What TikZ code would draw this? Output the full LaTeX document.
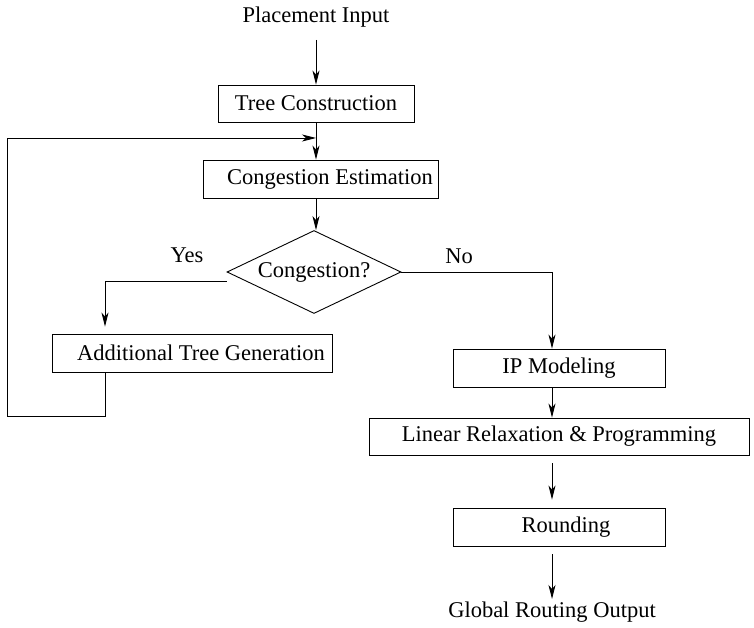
\documentclass[tikz,border=0pt]{standalone}
\usepackage{fontspec}
\setmainfont{Liberation Serif}
\usetikzlibrary{shapes.geometric,arrows.meta}
\begin{document}
\begin{tikzpicture}[x=1pt,y=-1pt,
  font=\fontsize{22.5}{26}\selectfont,
  line width=0.9pt,
  arr/.style={-{Stealth[length=14pt,width=7pt,inset=4pt]}},
  box/.style={draw, inner sep=0pt, minimum height=38pt},
  lbl/.style={inner sep=0pt}]
\useasboundingbox (0,0) rectangle (754,628);
\node[lbl] (pin) at (316,17) {Placement Input};
\node[box, minimum width=196pt, minimum height=37pt] (tc) at (316,103.5) {Tree Construction};
\node[box, minimum width=235pt] (ce) at (320.5,179) {\hspace{19pt}Congestion Estimation};
\node[draw, diamond, inner sep=0pt, aspect=2.1, minimum width=174pt, minimum height=83pt] (dm) at (314,272) {Congestion?};
\node[box, minimum width=280pt] (ad) at (192,353) {\hspace{18pt}Additional Tree Generation};
\node[box, minimum width=212pt] (ip) at (559,368) {IP Modeling\hspace{8pt}};
\node[box, minimum width=380pt, minimum height=37pt] (lr) at (559,436.5) {Linear Relaxation \& Programming};
\node[box, minimum width=212pt] (rd) at (559,527) {\hspace{14pt}Rounding};
\node[lbl] (gro) at (552,612) {Global Routing Output};
\node[lbl] (yes) at (187,255) {Yes};
\node[lbl] (no) at (459,256) {No};

\coordinate (top) at (316,40);
\coordinate (j) at (316,138);
\coordinate (l1) at (105,416);
\coordinate (l2) at (7,416);
\coordinate (l3) at (7,138);
\coordinate (yc) at (105,281);
\coordinate (nc) at (552,272);
\coordinate (gtop) at (552,599);

\draw[arr] (top) -- (top |- tc.north);
\draw[arr] (tc.south -| top) -- (top |- ce.north);
\draw[arr] (l1 |- ad.south) -- (l1) -- (l2) -- (l3) -- (j);
\draw[arr] (ce.south -| top) -- (top |- dm.north);
\draw[arr] (dm.west |- yc) -- (yc) -- ([yshift=7pt]yc |- ad.north);
\draw[arr] (dm.east) -- (nc) -- (nc |- ip.north);
\draw[arr] (nc |- ip.south) -- (nc |- lr.north);
\draw[arr] ([yshift=-8pt]nc |- lr.south) -- ([yshift=8pt]nc |- rd.north);
\draw[arr] ([yshift=-8pt]nc |- rd.south) -- (gtop);
\end{tikzpicture}
\end{document}
